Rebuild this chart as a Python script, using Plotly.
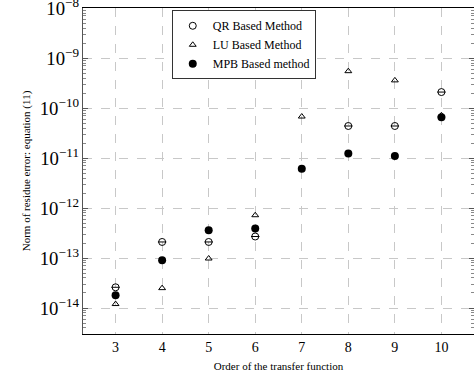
import plotly.graph_objects as go

orders = [3, 4, 5, 6, 7, 8, 9, 10]
qr_orders = [3, 4, 5, 6, 8, 9, 10]
qr_vals = [2.6e-14, 2.1e-13, 2.1e-13, 2.7e-13, 4.4e-11, 4.4e-11, 2.1e-10]
lu_vals = [1.2e-14, 2.5e-14, 9.8e-14, 7.2e-13, 6.8e-11, 5.5e-10, 3.6e-10, 7.2e-11]
mpb_vals = [1.8e-14, 9.0e-14, 3.6e-13, 3.9e-13, 6.1e-12, 1.24e-11, 1.1e-11, 6.6e-11]

font = "Liberation Serif, Times New Roman, serif"

fig = go.Figure()
fig.add_trace(go.Scatter(x=qr_orders, y=qr_vals, mode="markers", name="QR Based Method",
                         legendgroup="qr",
                         marker=dict(symbol="circle-open", size=7, color="black", line=dict(width=1))))
fig.add_trace(go.Scatter(x=qr_orders, y=qr_vals, mode="markers", showlegend=False,
                         legendgroup="qr",
                         marker=dict(symbol="line-ew-open", size=6, color="black", line=dict(width=1))))
fig.add_trace(go.Scatter(x=orders, y=lu_vals, mode="markers", name="LU Based Method",
                         marker=dict(symbol="triangle-up-open", size=6, color="black", line=dict(width=1))))
fig.add_trace(go.Scatter(x=orders, y=mpb_vals, mode="markers", name="MPB Based method",
                         marker=dict(symbol="circle", size=8, color="black")))

fig.update_layout(
    width=474, height=383,
    margin=dict(l=83, r=0, t=8, b=49, autoexpand=False),
    paper_bgcolor="white", plot_bgcolor="white",
    font=dict(family=font, color="black", size=11),
    showlegend=True,
    legend=dict(x=0.227, y=0.993, xanchor="left", yanchor="top",
                bordercolor="#333", borderwidth=1, bgcolor="white",
                font=dict(family=font, size=12), tracegroupgap=0,
                itemsizing="trace", itemwidth=30),
)
fig.update_xaxes(
    range=[2.3, 10.7], tickmode="array", tickvals=orders, ticktext=[str(o) for o in orders],
    automargin=False,
    showgrid=True, gridcolor="#c8c8c8", griddash="dash", gridwidth=1,
    showline=True, linecolor="black", linewidth=1, mirror=True,
    ticks="", zeroline=False,
    tickfont=dict(family=font, size=14),
    title=dict(text="Order of the transfer function", font=dict(family=font, size=11), standoff=8),
)
fig.update_yaxes(
    type="log", range=[-14.52, -7.995], dtick=1, exponentformat="power",
    ticklabeloverflow="allow", automargin=False,
    showgrid=True, gridcolor="#c8c8c8", griddash="dash", gridwidth=1,
    showline=True, linecolor="#555", linewidth=1, mirror="ticks",
    ticks="inside", ticklen=5, tickcolor="#555",
    minor=dict(ticks="inside", ticklen=3, tickcolor="#888", showgrid=False),
    zeroline=False,
    tickfont=dict(family=font, size=15),
    title=dict(text="Norm of residue error: equation (11)", font=dict(family=font, size=11), standoff=6),
)

fig.write_html("out.html")
